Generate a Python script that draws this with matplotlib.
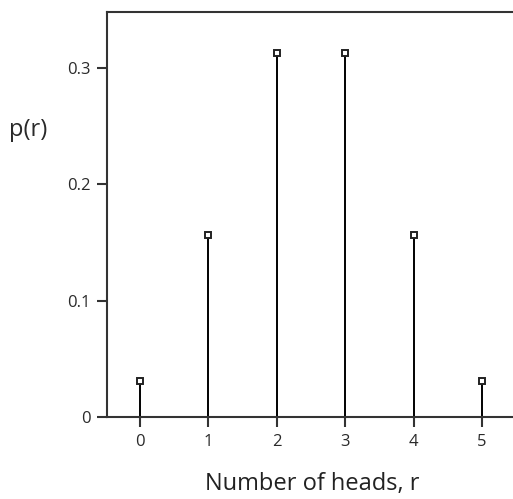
import numpy as np
import matplotlib
matplotlib.use('Agg')
import matplotlib.pyplot as plt

# binomial n=5, p=0.5
heads = [0, 1, 2, 3, 4, 5]
prob = [0.03125, 0.15625, 0.3125, 0.3125, 0.15625, 0.03125]

plt.rcParams['font.family'] = ['Open Sans', 'DejaVu Sans']

fig = plt.figure(figsize=(5.13, 4.99), dpi=100)
ax = fig.add_axes([0.2086, 0.1643, 0.7914, 0.8116])

ax.vlines(heads, 0, prob, color='black', linewidth=1.4)
ax.plot(heads, prob, 's', markersize=4.5, markerfacecolor='white',
        markeredgecolor='#222222', markeredgewidth=1.4)

ax.set_xlim(-0.48, 5.453)
ax.set_ylim(0, 0.348)

ax.spines['right'].set_visible(False)
for s in ['left', 'top', 'bottom']:
    ax.spines[s].set_color('#333333')
    ax.spines[s].set_linewidth(1.5)

ax.set_xticks(heads)
ax.set_yticks([0, 0.1, 0.2, 0.3])
ax.set_yticklabels(['0', '0.1', '0.2', '0.3'])
ax.tick_params(direction='out', length=7, width=1.5, color='#333333',
               labelsize=12, labelcolor='#2a2a2a', pad=5)

fig.text(28 / 513, 1 - 130 / 499, 'p(r)', ha='center', va='center',
         fontsize=17, color='#2a2a2a')
fig.text(312 / 513, 1 - 484 / 499, 'Number of heads, r', ha='center',
         va='center', fontsize=17, color='#222222')

fig.savefig('out.png', dpi=100)
